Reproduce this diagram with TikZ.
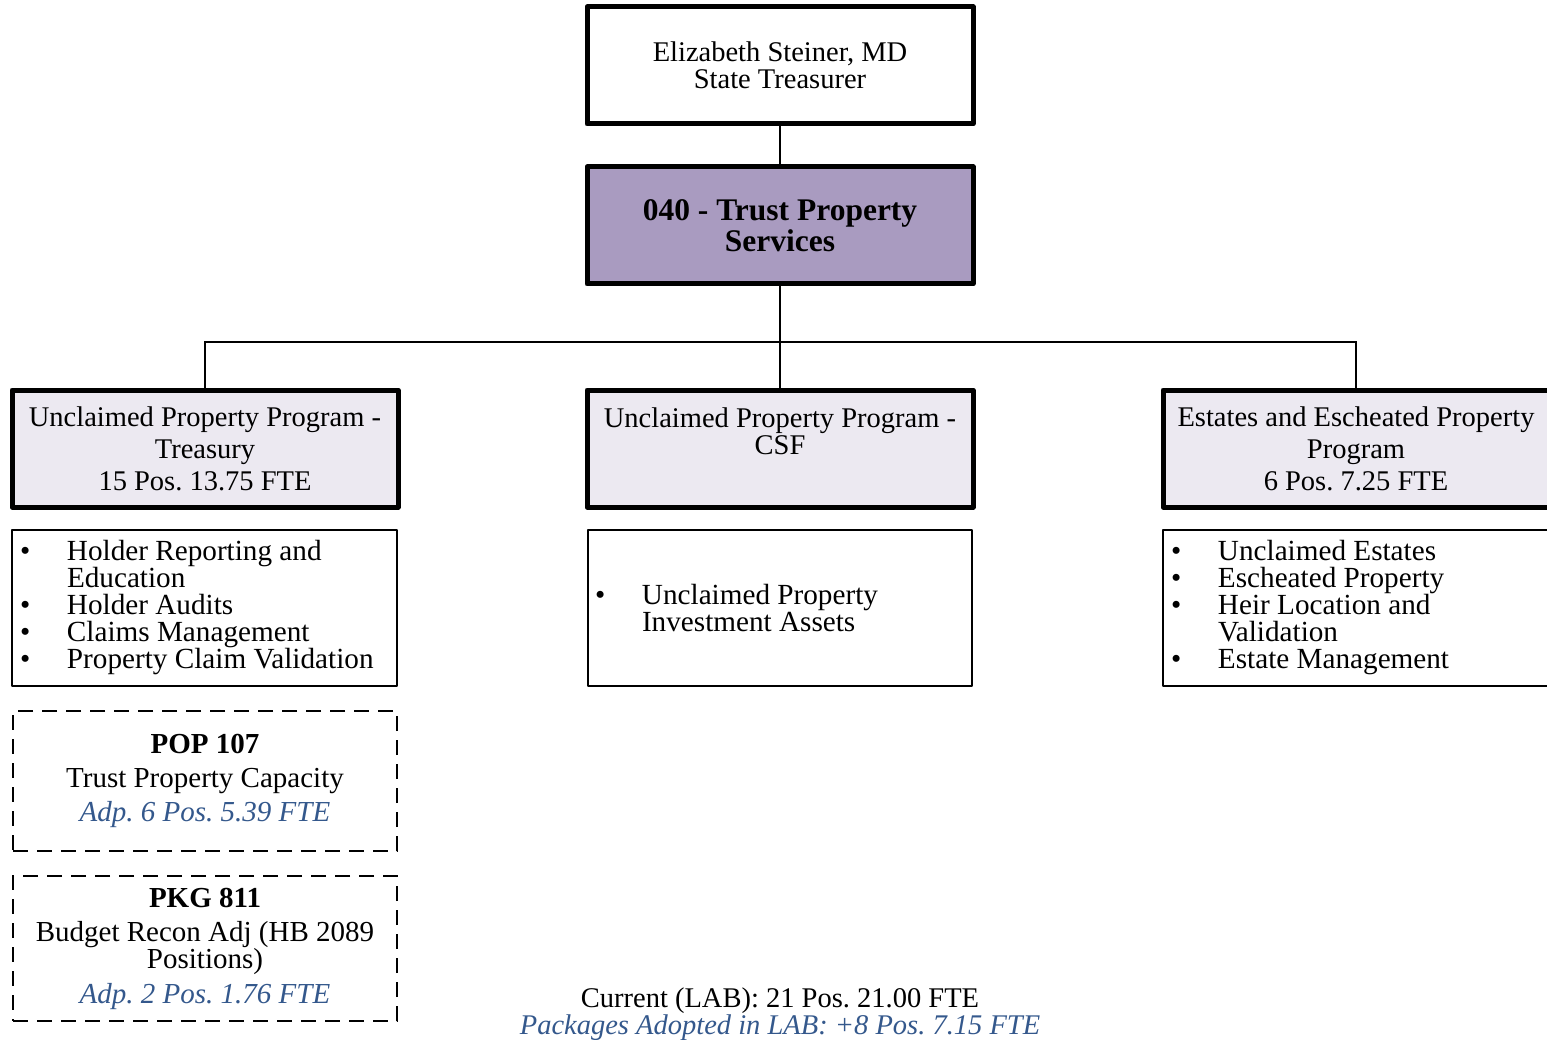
\documentclass[tikz,border=0pt]{standalone}
\usepackage{fontspec}
\setmainfont{Liberation Serif}
\definecolor{unitfill}{RGB}{169,155,192}
\definecolor{progfill}{RGB}{236,233,241}
\definecolor{adpblue}{RGB}{52,88,140}
% bullet column for the duty lists
\newcommand\listmark{\makebox[47pt][l]{\textbullet}}
\newcommand\listgap{\hspace*{47pt}}
\begin{document}
\frenchspacing
\begin{tikzpicture}[x=1pt,y=-1pt,
  every node/.style={inner sep=0pt},
  bigbox/.style={draw, line width=5pt, line join=round, minimum width=386pt, minimum height=117pt, align=center},
  headbox/.style={bigbox, fill=white, font=\fontsize{28.5}{27}\selectfont},
  unitbox/.style={bigbox, fill=unitfill, font=\fontsize{31.5}{31}\selectfont\bfseries},
  progbox/.style={bigbox, fill=progfill, font=\fontsize{28.5}{32}\selectfont},
  listbox/.style={draw, line width=2pt, line join=round, minimum height=156pt, inner xsep=8pt, text width=369pt, align=flush left, font=\fontsize{29.2}{27}\selectfont},
  pkgbox/.style={draw, line width=2.5pt, dash pattern=on 15pt off 9pt, minimum width=384pt, align=center, font=\fontsize{29}{27}\selectfont},
  conn/.style={line width=2pt},
  totals/.style={align=center, font=\fontsize{28.5}{27}\selectfont},
]
\useasboundingbox (0,0) rectangle (1547,1040);

% reporting chain
\node[headbox] (head) at (780,65.5) {Elizabeth Steiner, MD\\State Treasurer};
\node[unitbox] (unit) at (780,225.5) {040 - Trust Property\\Services};

% programs
\node[progbox] (upt) at (205,448.5) {Unclaimed Property Program -\\Treasury\\15 Pos. 13.75 FTE};
\node[progbox, font=\fontsize{28.5}{27}\selectfont] (csf) at (780,448.5) {Unclaimed Property Program -\\CSF\\\strut};
\node[progbox] (eep) at (1356,448.5) {Estates and Escheated Property\\Program\\6 Pos. 7.25 FTE};

\coordinate (hub) at (780,342);
\draw[conn] (head.south) -- (unit.north);
\draw[conn] (unit.south) -- (csf.north);
\draw[conn] (upt.north) |- (hub) -| (eep.north);

% duties of each program
\node[listbox] (uptlist) at (204.5,608) {\listmark Holder Reporting and\\\listgap Education\\\listmark Holder Audits\\\listmark Claims Management\\\listmark Property Claim Validation};
\node[listbox, inner xsep=7pt, text width=370pt] (csflist) at (780,608) {\listmark Unclaimed Property\\\listgap Investment Assets};
\node[listbox, text width=370pt] (eeplist) at (1356,608) {\listmark Unclaimed Estates\\\listmark Escheated Property\\\listmark Heir Location and\\\listgap Validation\\\listmark Estate Management};

% adopted packages
\node[pkgbox, minimum height=140pt] (pop) at (205,781) {{\bfseries POP 107}\\[7pt]Trust Property Capacity\\[7pt]{\itshape\color{adpblue}Adp. 6 Pos. 5.39 FTE}};
\node[pkgbox, minimum height=145pt] (pkg) at (205,948.5) {{\bfseries PKG 811}\\[7pt]Budget Recon Adj (HB 2089\\Positions)\\[8pt]{\itshape\color{adpblue}Adp. 2 Pos. 1.76 FTE}};

% position totals
\node[totals] (sum) at (780,1014) {Current (LAB): 21 Pos. 21.00 FTE\\{\itshape\color{adpblue}Packages Adopted in LAB: +8 Pos. 7.15 FTE}};
\end{tikzpicture}
\end{document}
